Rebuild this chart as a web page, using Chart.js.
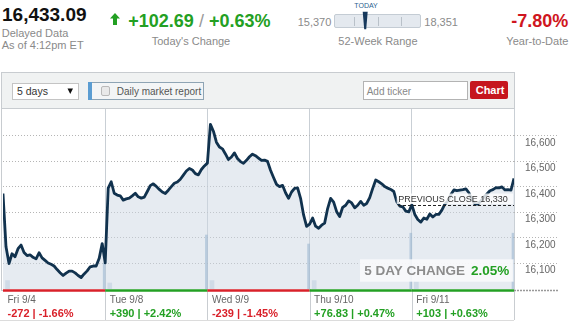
<!DOCTYPE html>
<html><head><meta charset="utf-8">
<script src="https://cdn.jsdelivr.net/npm/chart.js@4"></script>
<style>
html,body{margin:0;padding:0;background:#fff;}
body{width:575px;height:323px;position:relative;overflow:hidden;font-family:Arial,"Liberation Sans",sans-serif;}
.t{position:absolute;white-space:nowrap;line-height:1;}
.g{color:#8a8a8a;font-size:11px;}
.box{position:absolute;box-sizing:border-box;}
#c{position:absolute;left:0;top:109px;}
</style></head><body>
<div class="t" style="left:2px;top:4.6px;font-size:19px;font-weight:bold;color:#111;">16,433.09</div>
<div class="t g" style="left:1.7px;top:28.2px;">Delayed Data</div>
<div class="t g" style="left:1.7px;top:40.3px;">As of 4:12pm ET</div>
<svg class="box" style="left:110px;top:13px;" width="10" height="12"><polygon points="0,5.5 5,0 10,5.5 7,5.5 7,12 3,12 3,5.5" fill="#23a023"/></svg>
<div class="t" style="left:128.3px;top:11.5px;font-size:18px;font-weight:bold;color:#23a023;">+102.69<span style="font-weight:normal;color:#9a9a9a;"> / </span>+0.63%</div>
<div class="t g" style="left:151.7px;top:35.7px;">Today's Change</div>
<div class="t" style="left:354.3px;top:2.4px;font-size:7px;color:#2d5f8f;">TODAY</div>
<div class="box" style="left:334px;top:14px;width:87px;height:14px;background:#e4e9ef;border:1px solid #c4ccd4;border-radius:2px;"></div>
<div class="box" style="left:354px;top:17px;width:1px;height:9px;background:#b9c1c9;"></div>
<div class="box" style="left:378px;top:17px;width:1px;height:9px;background:#b9c1c9;"></div>
<div class="box" style="left:401px;top:17px;width:1px;height:9px;background:#b9c1c9;"></div>
<svg class="box" style="left:362px;top:11px;" width="7" height="19"><polygon points="0.7,0.7 5.7,0.7 4.2,18.3 2.2,18.3" fill="#17395c"/></svg>
<div class="t g" style="left:297.7px;top:16.7px;">15,370</div>
<div class="t g" style="left:424.3px;top:16.7px;">18,351</div>
<div class="t g" style="left:338.3px;top:35.7px;">52-Week Range</div>
<div class="t" style="right:6.7px;top:12.1px;font-size:18px;font-weight:bold;color:#cf1520;">-7.80%</div>
<div class="t g" style="right:6.7px;top:35.7px;">Year-to-Date</div>

<div class="box" style="left:1px;top:72px;width:514px;height:219px;border:1px solid #c8ccd0;"></div>
<div class="box" style="left:2px;top:73px;width:512px;height:36px;background:#f0f2f2;border-bottom:1px solid #c8ccd0;"></div>
<div class="box" style="left:12px;top:83px;width:67px;height:17px;background:#fff;border:1px solid #c4c4c4;"></div>
<div class="t" style="left:17px;top:86.1px;font-size:10.5px;color:#333;">5 days</div>
<svg class="box" style="left:67px;top:88px;" width="7" height="7"><polygon points="0.5,0.5 6,0.5 3.25,6" fill="#111"/></svg>
<div class="box" style="left:88px;top:82px;width:116px;height:18px;background:#f3f5f6;border:1px solid #8ea4b4;"></div>
<div class="box" style="left:88px;top:82px;width:4px;height:18px;background:#5b9dd2;"></div>
<div class="box" style="left:101px;top:86px;width:9px;height:10px;background:#e9e9e9;border:1px solid #b9b9b9;border-radius:2px;"></div>
<div class="t" style="left:116.7px;top:86.5px;font-size:10px;color:#555;">Daily market report</div>
<div class="box" style="left:363px;top:81px;width:105px;height:19px;background:#fff;border:1px solid #b3b3b3;"></div>
<div class="t" style="left:366.7px;top:86.5px;font-size:10px;color:#888;">Add ticker</div>
<div class="box" style="left:470px;top:81px;width:38px;height:18px;background:#c6161e;border-radius:2px;"></div>
<div class="t" style="left:475.7px;top:84.7px;font-size:11px;font-weight:bold;color:#fff;">Chart</div>

<canvas id="c" width="575" height="214"></canvas>
<script>
// ---- data ----
const days = ['Fri 9/4', 'Tue 9/8', 'Wed 9/9', 'Thu 9/10', 'Fri 9/11'];
const dayChange = ['-272', '+390', '-239', '+76.83', '+103'];
const dayPct = ['-1.66%', '+2.42%', '-1.45%', '+0.47%', '+0.63%'];
const prevClose = 16330;
const fiveDayChange = '2.05%';
const yTicks = [16100, 16200, 16300, 16400, 16500, 16600];

const day1 = [16374,16165,16100,16138,16126,16158,16172,16143,16131,16134,16124,16118,16142,16122,16112,16102,16097,16090,16076,16064,16053,16062,16070,16070,16063,16053,16045,16059,16071,16087,16090,16090,16120,16178,16103];
const day2 = [16102,16395,16420,16375,16368,16365,16348,16353,16356,16365,16375,16361,16356,16360,16382,16405,16412,16402,16390,16380,16374,16387,16401,16414,16419,16430,16446,16462,16472,16466,16452,16447,16468,16482,16493];
const day3 = [16493,16645,16618,16575,16556,16549,16529,16507,16517,16533,16511,16499,16492,16504,16518,16528,16522,16513,16504,16505,16500,16465,16437,16410,16401,16406,16377,16355,16380,16394,16396,16355,16290,16245,16254];
const day4 = [16254,16278,16246,16238,16250,16258,16315,16355,16340,16303,16284,16320,16328,16345,16337,16318,16328,16343,16328,16335,16358,16394,16427,16420,16412,16401,16395,16390,16382,16342,16325,16322,16305,16302,16330];
const day5 = [16330,16292,16272,16262,16278,16273,16294,16282,16292,16292,16309,16332,16345,16370,16388,16385,16387,16389,16392,16377,16350,16333,16333,16345,16360,16372,16385,16389,16397,16396,16400,16388,16389,16387,16433];
const closeVolume = [43, 90, 75, 93, 93];
const openVolume = [14, 10, 14, 14, 12];

// ---- build ----
const dayValues = [day1, day2, day3, day4, day5];
const lineData = [];
dayValues.forEach((arr, d) => arr.forEach((v, k) => lineData.push({x: d + k / (arr.length - 1), y: v})));
const closeVolData = closeVolume.map((v, d) => ({x: d + 1, y: v}));
const openVolData = openVolume.map((v, d) => ({x: d + 0.025, y: v}));

const FONT = 'Arial, "Liberation Sans", sans-serif';
Chart.defaults.font.family = FONT;
const GREEN = '#23a023', RED = '#d9212a';

const overlay = {
  id: 'overlay',
  afterDatasetsDraw(chart) {
    const {ctx, chartArea: a, scales: {y}} = chart;
    ctx.save();
    const yp = Math.round(y.getPixelForValue(prevClose)) + 0.5;
    ctx.fillStyle = 'rgba(255,255,255,0.8)';
    ctx.fillRect(a.right - 117.3, yp - 12, 116.3, 10.5);
    ctx.font = '9px ' + FONT;
    ctx.fillStyle = '#333';
    ctx.textBaseline = 'alphabetic';
    ctx.fillText('PREVIOUS CLOSE ' + prevClose.toLocaleString('en-US'), a.right - 115.7, yp - 4);
    ctx.setLineDash([3, 2]);
    ctx.strokeStyle = '#222';
    ctx.lineWidth = 1;
    ctx.beginPath(); ctx.moveTo(a.right - 116, yp); ctx.lineTo(a.right, yp); ctx.stroke();
    ctx.setLineDash([]);
    ctx.fillStyle = 'rgba(250,251,252,0.88)';
    ctx.fillRect(a.right - 154, a.bottom - 29.7, 153.5, 22.4);
    ctx.font = 'bold 13.5px ' + FONT;
    ctx.fillStyle = '#8c8c8c';
    ctx.textAlign = 'left';
    ctx.fillText('5 DAY CHANGE', a.right - 149.7, a.bottom - 14);
    ctx.fillStyle = GREEN;
    ctx.textAlign = 'right';
    ctx.fillText(fiveDayChange, a.right - 4.7, a.bottom - 14);
    ctx.restore();
  },
  afterDraw(chart) {
    const {ctx, chartArea: a, scales: {x}} = chart;
    ctx.save();
    ctx.strokeStyle = '#c9cdd1';
    ctx.lineWidth = 1;
    for (let d = 1; d <= days.length; d++) {
      const px = Math.round(x.getPixelForValue(d)) + 0.5;
      ctx.beginPath(); ctx.moveTo(px, a.bottom); ctx.lineTo(px, a.bottom + 31); ctx.stroke();
    }
    ctx.strokeStyle = '#dcdcdc';
    ctx.beginPath(); ctx.moveTo(0, a.bottom + 31.5); ctx.lineTo(x.getPixelForValue(days.length), a.bottom + 31.5); ctx.stroke();
    ctx.lineWidth = 2.5;
    days.forEach((lab, d) => {
      ctx.strokeStyle = dayChange[d].startsWith('-') ? RED : GREEN;
      ctx.beginPath();
      ctx.moveTo(x.getPixelForValue(d), a.bottom + 1.5);
      ctx.lineTo(x.getPixelForValue(d + 1), a.bottom + 1.5);
      ctx.stroke();
    });
    ctx.strokeStyle = '#999';
    ctx.lineWidth = 1.5;
    ctx.setLineDash([2, 1]);
    ctx.beginPath(); ctx.moveTo(x.getPixelForValue(days.length), a.bottom + 1.5); ctx.lineTo(a.right + 44, a.bottom + 1.5); ctx.stroke();
    ctx.setLineDash([]);
    ctx.textBaseline = 'alphabetic';
    ctx.textAlign = 'left';
    days.forEach((lab, d) => {
      const px = x.getPixelForValue(d) + 4.5;
      ctx.font = '10px ' + FONT;
      ctx.fillStyle = '#666';
      ctx.fillText(lab, px, a.bottom + 13.5);
      ctx.font = 'bold 11px ' + FONT;
      ctx.fillStyle = dayChange[d].startsWith('-') ? RED : GREEN;
      ctx.fillText(dayChange[d] + ' | ' + dayPct[d], px, a.bottom + 28);
    });
    ctx.restore();
  }
};

new Chart(document.getElementById('c'), {
  type: 'line',
  data: {
    datasets: [
      {type: 'line', data: lineData, borderColor: '#11324e', borderWidth: 2.8, pointRadius: 0,
       fill: 'start', backgroundColor: 'rgba(205,215,227,0.5)', tension: 0, borderJoinStyle: 'round',
       yAxisID: 'y', order: 0},
      {type: 'bar', data: closeVolData, backgroundColor: 'rgba(150,178,205,0.55)', barThickness: 2,
       yAxisID: 'yVol', order: 1},
      {type: 'bar', data: openVolData, backgroundColor: 'rgba(165,190,212,0.35)', barThickness: 4,
       yAxisID: 'yVol', order: 2}
    ]
  },
  options: {
    responsive: false,
    maintainAspectRatio: false,
    animation: false,
    events: [],
    layout: {padding: {left: 3, top: 0, right: 0, bottom: 0}},
    plugins: {legend: {display: false}, tooltip: {enabled: false}, filler: {drawTime: 'beforeDatasetsDraw'}},
    scales: {
      x: {
        type: 'linear', min: 0, max: days.length, offset: false,
        ticks: {display: false},
        grid: {color: '#c9cfd5', drawTicks: false, lineWidth: 1, offset: false},
        border: {display: false},
        afterBuildTicks: s => { s.ticks = days.map((_, i) => ({value: i + 1})); },
        afterFit: s => { s.height = 34; }
      },
      y: {
        position: 'right', min: 16000, max: 16705,
        afterBuildTicks: s => { s.ticks = yTicks.map(v => ({value: v})); },
        ticks: {color: '#666', font: {size: 10}, padding: -33, labelOffset: 7,
                callback: v => v.toLocaleString('en-US')},
        grid: {color: '#b5b5b5', tickLength: 44, tickColor: '#b5b5b5', tickBorderDash: [1, 2], drawTicks: true},
        border: {display: false, dash: [1, 2]},
        afterFit: s => { s.width = 61; }
      },
      yVol: {display: false, min: 0, max: 300}
    }
  },
  plugins: [overlay]
});
</script>
</body></html>
